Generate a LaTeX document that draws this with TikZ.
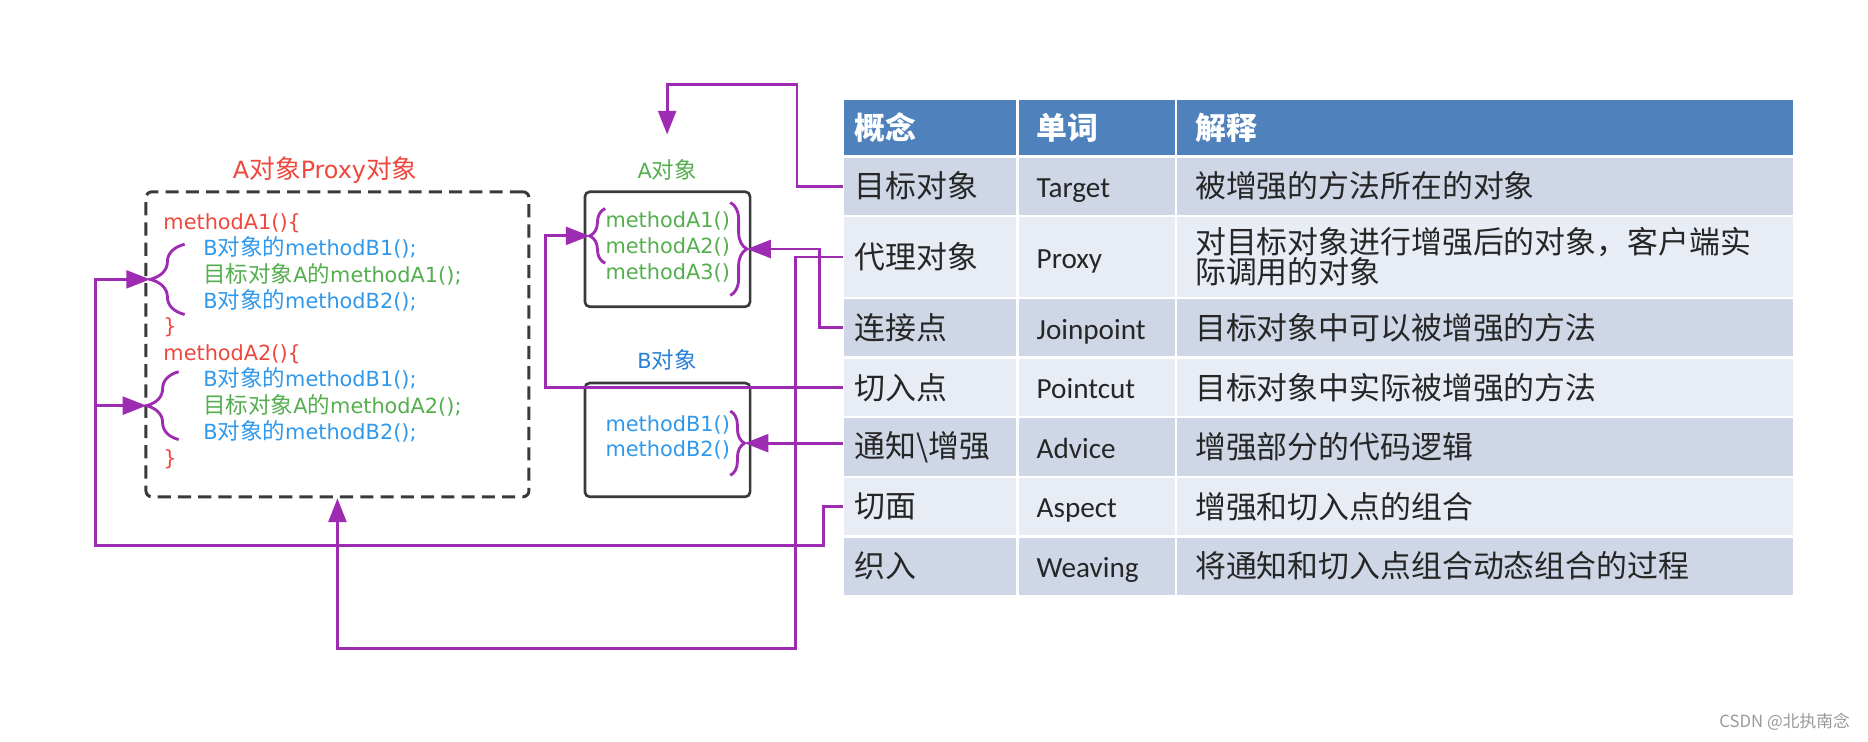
\documentclass[tikz,border=0pt]{standalone}
\usepackage{fontspec}
\setmainfont{DejaVu Sans}
\newfontfamily\cjk[Scale=1.08]{Noto Sans CJK SC}
\newfontfamily\latn{Carlito}
\usetikzlibrary{matrix,positioning,arrows.meta,decorations.pathreplacing}

\definecolor{codered}{RGB}{238,72,62}
\definecolor{codeblue}{RGB}{48,152,234}
\definecolor{codegreen}{RGB}{84,174,78}
\definecolor{objblue}{RGB}{40,128,214}
\definecolor{linkpurple}{RGB}{158,44,178}
\definecolor{headblue}{RGB}{79,129,189}
\definecolor{rowdark}{RGB}{207,214,230}
\definecolor{rowlight}{RGB}{232,236,244}
\definecolor{boxgray}{RGB}{58,58,58}

\hyphenpenalty=10000

\tikzset{
  link/.style={linkpurple, line width=2.4pt, -{Triangle[length=20pt,width=15pt]}},
  curly/.style={draw=linkpurple, line width=2.4pt, decorate, decoration={brace,amplitude=#1}},
  code/.style={anchor=mid west, inner sep=0pt, font=\fontsize{17.5}{21}\selectfont},
  objbox/.style={draw=boxgray, line width=2.2pt, rounded corners=4pt},
}

\begin{document}
\begin{tikzpicture}[x=1pt,y=-1pt]
\useasboundingbox (0,0) rectangle (1568,622);

% proxy object
\node[text=codered, font=\fontsize{20}{24}\selectfont] (ptitle) at (273,143) {A{\cjk 对象}Proxy{\cjk 对象}};
\node[draw=boxgray, line width=2.5pt, dash pattern=on 11pt off 6pt, rounded corners=5pt,
      minimum width=321.5pt, minimum height=256pt] (proxy) at (283.25,289) {};
\node[code, text=codered]   (ma1)    at (137,190)     {methodA1()\{};
\node[code, text=codeblue]  (ma1b1)  at (170.5,212)   {B{\cjk 对象的}methodB1();};
\node[code, text=codegreen] (ma1a1)  at (170.5,234.5) {{\cjk 目标对象}A{\cjk 的}methodA1();};
\node[code, text=codeblue]  (ma1b2)  at (170.5,256)   {B{\cjk 对象的}methodB2();};
\node[code, text=codered]   (ma1end) at (137,277)     {\}};
\node[code, text=codered]   (ma2)    at (137,300)     {methodA2()\{};
\node[code, text=codeblue]  (ma2b1)  at (170.5,321.5) {B{\cjk 对象的}methodB1();};
\node[code, text=codegreen] (ma2a2)  at (170.5,344)   {{\cjk 目标对象}A{\cjk 的}methodA2();};
\node[code, text=codeblue]  (ma2b2)  at (170.5,366)   {B{\cjk 对象的}methodB2();};
\node[code, text=codered]   (ma2end) at (137,388)     {\}};
\draw[curly=29pt] (155,264) -- (155,205);
\draw[curly=27pt] (150,369) -- (150,312);
\coordinate (p1tip) at (126,234.5);
\coordinate (p2tip) at (123,340.5);

% A object
\node[text=codegreen, font=\fontsize{17.5}{21}\selectfont] (alabel) at (560,143) {A{\cjk 对象}};
\node[objbox, minimum width=138.6pt, minimum height=96.5pt] (aobj) at (560.3,209.2) {};
\node[code, anchor=mid, text=codegreen] (aa1) at (560.5,188)   {methodA1()};
\node[code, anchor=mid, text=codegreen] (aa2) at (560.5,210)   {methodA2()};
\node[code, anchor=mid, text=codegreen] (aa3) at (560.5,231.6) {methodA3()};
\draw[curly=13pt] (508,221) -- (508,175);
\draw[curly=14pt] (613,170) -- (613,248);
\coordinate (altip) at (495,198);
\coordinate (artip) at (627,209);
\coordinate (tgt) at (560,113);

% B object
\node[text=objblue, font=\fontsize{17.5}{21}\selectfont] (blabel) at (560,302) {B{\cjk 对象}};
\node[objbox, minimum width=138.6pt, minimum height=95.5pt] (bobj) at (560.3,369.25) {};
\node[code, anchor=mid, text=codeblue] (bb1) at (560.5,359.5) {methodB1()};
\node[code, anchor=mid, text=codeblue] (bb2) at (560.5,380.5) {methodB2()};
\draw[curly=12pt] (613,345) -- (613,399);
\coordinate (brtip) at (625,372);

% table of terms
\matrix(tbl) [matrix of nodes, anchor=north west, inner sep=0pt, column sep=2pt, row sep=2pt,
              ampersand replacement=\&,
              nodes={shape=rectangle, anchor=center, align=left, minimum height=48pt, fill=rowdark,
                     text=black!85, font=\cjk\fontsize{24}{25}\selectfont},
              column 1/.style={nodes={text width=127pt, inner xsep=9pt}},
              column 2/.style={nodes={text width=101pt, inner xsep=15pt, text height=22pt, text depth=3pt,
                                      font=\latn\fontsize{24.5}{26}\selectfont}},
              column 3/.style={nodes={text width=487pt, inner xsep=15pt}},
              row 1/.style={nodes={fill=headblue, text=white, minimum height=46pt,
                                   font=\cjk\bfseries\fontsize{24}{25}\selectfont}},
              row 3/.style={nodes={fill=rowlight, minimum height=67pt}},
              row 5/.style={nodes={fill=rowlight}},
              row 7/.style={nodes={fill=rowlight}}] at (708,84) {
 概念                \& 单词      \& 解释 \\
 目标对象            \& Target    \& 被增强的方法所在的对象 \\
 代理对象            \& Proxy     \& 对目标对象进行增强后的对象，客户端实\newline 际调用的对象 \\
 连接点              \& Joinpoint \& 目标对象中可以被增强的方法 \\
 切入点              \& Pointcut  \& 目标对象中实际被增强的方法 \\
 通知\textbackslash 增强 \& Advice \& 增强部分的代码逻辑 \\
 切面                \& Aspect    \& 增强和切入点的组合 \\
 织入                \& Weaving   \& 将通知和切入点组合动态组合的过程 \\
};

% links from the table
\draw[link] (tbl-2-1.west) -- ++(-39,0) |- (560,71) -- (tgt);
\draw[link] (tbl-3-1.west) -- ++(-40.5,0) |- (proxy.south |- 0,544) -- (proxy.south);
\draw[link] (tbl-4-1.west) -- ++(-20,0) |- (artip);
\draw[link] (tbl-5-1.west) -- ++(-250,0) |- (altip);
\draw[link] (brtip -| tbl-6-1.west) -- (brtip);
\draw[link] (tbl-7-1.west) -- ++(-17,0) |- (80,458) coordinate (lft) |- (p1tip);
\draw[link] (lft |- p2tip) -- (p2tip);

\node[text=black!40, font=\cjk\fontsize{13}{15}\selectfont] (mark) at (1498,606) {CSDN @北执南念};
\end{tikzpicture}
\end{document}
